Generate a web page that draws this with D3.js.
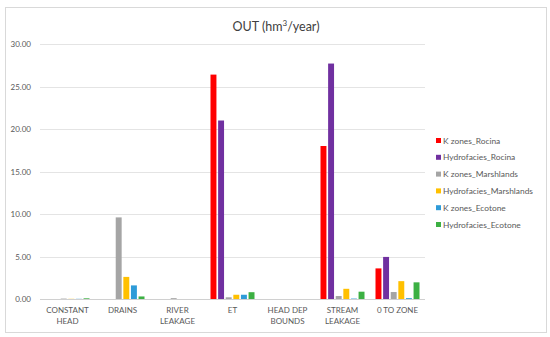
<!DOCTYPE html>
<html>
<head>
<meta charset="utf-8">
<script src="https://cdn.jsdelivr.net/npm/d3@7"></script>
<style>
  body { margin: 0; background: #fff; }
  svg { font-family: Lato, "Liberation Sans", sans-serif; }
</style>
</head>
<body>
<svg id="chart" width="550" height="337"></svg>
<script>
const categories = [["CONSTANT", "HEAD"], ["DRAINS"], ["RIVER", "LEAKAGE"], ["ET"],
  ["HEAD DEP", "BOUNDS"], ["STREAM", "LEAKAGE"], ["0 TO ZONE"]]
const seriesNames = ["K zones_Rocina", "Hydrofacies_Rocina", "K zones_Marshlands",
  "Hydrofacies_Marshlands", "K zones_Ecotone", "Hydrofacies_Ecotone"]
const seriesColors = ["#ff0000", "#7030a0", "#a5a5a5", "#ffc000", "#2e9bd8", "#3cb043"]

// one array per series, one value per category
const kRocina = [0, 0, 0, 26.4, 0, 18.0, 3.6]
const hRocina = [0, 0, 0, 21.0, 0, 27.7, 4.95]
const kMarsh = [0.05, 9.6, 0.1, 0.2, 0, 0.35, 0.82]
const hMarsh = [0.02, 2.6, 0, 0.5, 0, 1.2, 2.1]
const kEco = [0.02, 1.6, 0, 0.5, 0, 0.05, 0.1]
const hEco = [0.08, 0.3, 0, 0.8, 0, 0.86, 1.96]
const seriesValues = [kRocina, hRocina, kMarsh, hMarsh, kEco, hEco]
const yTicks = [0, 5, 10, 15, 20, 25, 30]

const svg = d3.select("#chart")
const plot = {left: 40, right: 425, top: 44, bottom: 299}

// chart frame
svg.append("rect")
  .attr("x", 5.5).attr("y", 7.5).attr("width", 541).attr("height", 325)
  .attr("fill", "#fff").attr("stroke", "#d9d9d9")

var title = svg.append("text")
  .attr("x", 276).attr("y", 31)
  .attr("text-anchor", "middle")
  .attr("font-size", 12.5).attr("fill", "#404040")
title.append("tspan").text("OUT (hm")
title.append("tspan").attr("baseline-shift", "super").attr("font-size", 8).text("3")
title.append("tspan").text("/year)")

const x = d3.scaleBand()
  .domain(d3.range(categories.length))
  .range([plot.left, plot.right])
  .paddingInner(0.2).paddingOuter(0.1)
const xs = d3.scaleBand()
  .domain(d3.range(seriesNames.length))
  .range([0, x.bandwidth()])
  .paddingInner(0.22)
const y = d3.scaleLinear().domain([0, 30]).range([plot.bottom, plot.top])

// gridlines and y labels
svg.append("g")
  .selectAll("line")
  .data(yTicks)
  .enter().append("line")
  .attr("x1", plot.left).attr("x2", plot.right)
  .attr("y1", function(d) { return Math.round(y(d)) + 0.5 })
  .attr("y2", function(d) { return Math.round(y(d)) + 0.5 })
  .attr("stroke", function(d) { return d === 0 ? "#d0d0d0" : "#e4e4e4" })

svg.append("g")
  .selectAll("text")
  .data(yTicks)
  .enter().append("text")
  .attr("x", 31).attr("y", function(d) { return y(d) + 3 })
  .attr("text-anchor", "end")
  .attr("font-size", 8).attr("fill", "#595959")
  .text(function(d) { return d.toFixed(2) })

// bars
const groups = svg.append("g")
  .selectAll("g")
  .data(categories)
  .enter().append("g")
  .attr("transform", function(d, i) { return "translate(" + x(i) + ",0)" })

groups.selectAll("rect")
  .data(function(d, i) { return seriesValues.map(function(s, j) { return {s: j, v: s[i]} }) })
  .enter().append("rect")
  .attr("x", function(d) { return xs(d.s) })
  .attr("width", xs.bandwidth())
  .attr("y", function(d) { return y(d.v) })
  .attr("height", function(d) { return y(0) - y(d.v) })
  .attr("fill", function(d) { return seriesColors[d.s] })

// category labels
const labels = svg.append("g")
  .selectAll("text")
  .data(categories)
  .enter().append("text")
  .attr("text-anchor", "middle")
  .attr("font-size", 8).attr("fill", "#595959")
  .attr("transform", function(d, i) { return "translate(" + (x(i) + x.bandwidth() / 2) + ",313)" })

labels.selectAll("tspan")
  .data(function(d) { return d })
  .enter().append("tspan")
  .attr("x", 0)
  .attr("dy", function(d, i) { return i === 0 ? 0 : 11 })
  .text(function(d) { return d })

// legend
const legend = svg.append("g")
  .selectAll("g")
  .data(seriesNames)
  .enter().append("g")
  .attr("transform", function(d, i) { return "translate(436," + (142 + i * 16.8) + ")" })

legend.append("rect")
  .attr("x", 0).attr("y", -4).attr("width", 5).attr("height", 5)
  .attr("fill", function(d, i) { return seriesColors[i] })

legend.append("text")
  .attr("x", 7).attr("y", 1.5)
  .attr("font-size", 8.4).attr("fill", "#595959")
  .text(function(d) { return d })
</script>
</body>
</html>
